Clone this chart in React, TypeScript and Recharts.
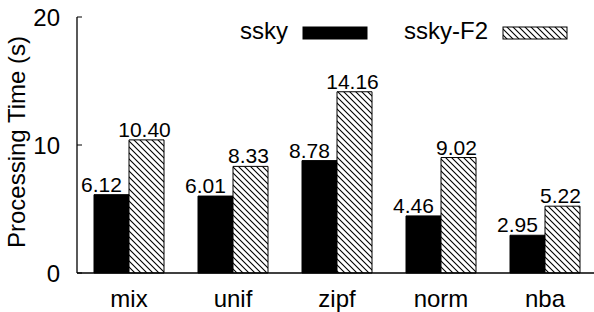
import { BarChart, Bar, XAxis, YAxis, LabelList } from 'recharts'

const categories = ['mix', 'unif', 'zipf', 'norm', 'nba']
const sskyTimes = [6.12, 6.01, 8.78, 4.46, 2.95]
const sskyF2Times = [10.4, 8.33, 14.16, 9.02, 5.22]
const yTicks = [0, 10, 20]

const data = categories.map((name, i) => ({
  name,
  ssky: sskyTimes[i],
  'ssky-F2': sskyF2Times[i],
}))

const FONT = '"Liberation Sans", Arial, Helvetica, sans-serif'

// gnuplot puts the value labels a bit left of the bar centre
function makeValueLabel(dx: number) {
  // eslint-disable-next-line @typescript-eslint/no-explicit-any
  return function ValueLabel(props: any) {
    const { x, y, width, value } = props
    return (
      <text
        x={x + width / 2 + dx}
        y={y - 3}
        textAnchor="middle"
        fontSize={21}
        fontFamily={FONT}
        fill="#000"
      >
        {Number(value).toFixed(2)}
      </text>
    )
  }
}

// eslint-disable-next-line @typescript-eslint/no-explicit-any
function YLabel({ viewBox }: any) {
  const cx = viewBox.x + 25
  const cy = viewBox.y + viewBox.height / 2 - 3
  return (
    <text
      x={cx}
      y={cy}
      transform={`rotate(-90 ${cx} ${cy})`}
      textAnchor="middle"
      fontSize={24}
      fontFamily={FONT}
      fill="#000"
    >
      Processing Time (s)
    </text>
  )
}

function Legend() {
  // right-aligned label followed by a swatch, gnuplot style
  const items = [
    { name: 'ssky', fill: '#000', textEnd: 288, swatchX: 303 },
    { name: 'ssky-F2', fill: 'url(#hatchLegend)', textEnd: 488, swatchX: 503 },
  ]
  return (
    <svg
      width={594}
      height={50}
      style={{ position: 'absolute', left: 0, top: 0, pointerEvents: 'none' }}
    >
      <defs>
        <pattern id="hatchLegend" patternUnits="userSpaceOnUse" width={6} height={6}>
          <rect width={6} height={6} fill="#fff" />
          <path d="M0,0 L6,6 M-1,5 L1,7 M5,-1 L7,1" stroke="#000" strokeWidth={1.1} />
        </pattern>
      </defs>
      {items.map((it) => (
        <g key={it.name}>
          <text
            x={it.textEnd}
            y={39}
            textAnchor="end"
            fontSize={24}
            fontFamily={FONT}
            fill="#000"
          >
            {it.name}
          </text>
          <rect x={it.swatchX} y={27} width={64} height={12} fill={it.fill} stroke="#000" strokeWidth={1} />
        </g>
      ))}
    </svg>
  )
}

export default function App() {
  return (
    <div
      style={{
        position: 'absolute',
        left: 0,
        top: 0,
        width: 594,
        height: 312,
        overflow: 'hidden',
        background: '#fff',
      }}
    >
      <BarChart
        width={600}
        height={312}
        data={data}
        barGap={0}
        barSize={35}
        margin={{ top: 17, right: 3, left: 0, bottom: 0 }}
      >
        <defs>
          <pattern id="hatch" patternUnits="userSpaceOnUse" width={6} height={6}>
            <rect width={6} height={6} fill="#fff" />
            <path d="M0,0 L6,6 M-1,5 L1,7 M5,-1 L7,1" stroke="#000" strokeWidth={1.1} />
          </pattern>
        </defs>
        <XAxis
          dataKey="name"
          axisLine={{ stroke: '#000', strokeWidth: 1.3 }}
          tickLine={false}
          tickSize={0}
          tickMargin={17}
          height={39}
          tick={{ fill: '#000', fontSize: 24, fontFamily: FONT }}
        />
        <XAxis
          xAxisId="top"
          dataKey="name"
          orientation="top"
          height={0}
          axisLine={{ stroke: '#000', strokeWidth: 1.3 }}
          tickLine={{ stroke: '#000', strokeWidth: 1 }}
          tickSize={-5}
          tick={false}
        />
        <YAxis
          domain={[0, 20]}
          ticks={yTicks}
          width={77}
          axisLine={{ stroke: '#000', strokeWidth: 1.3 }}
          tickLine={{ stroke: '#000', strokeWidth: 1 }}
          tickSize={-5}
          tickMargin={22}
          tick={{ fill: '#000', fontSize: 24, fontFamily: FONT }}
          label={<YLabel />}
        />
        <Bar dataKey="ssky" fill="#000" stroke="#000" strokeWidth={1} isAnimationActive={false}>
          <LabelList dataKey="ssky" content={makeValueLabel(-10)} />
        </Bar>
        <Bar dataKey="ssky-F2" fill="url(#hatch)" stroke="#000" strokeWidth={1} isAnimationActive={false}>
          <LabelList dataKey="ssky-F2" content={makeValueLabel(-2)} />
        </Bar>
      </BarChart>
      <Legend />
    </div>
  )
}
